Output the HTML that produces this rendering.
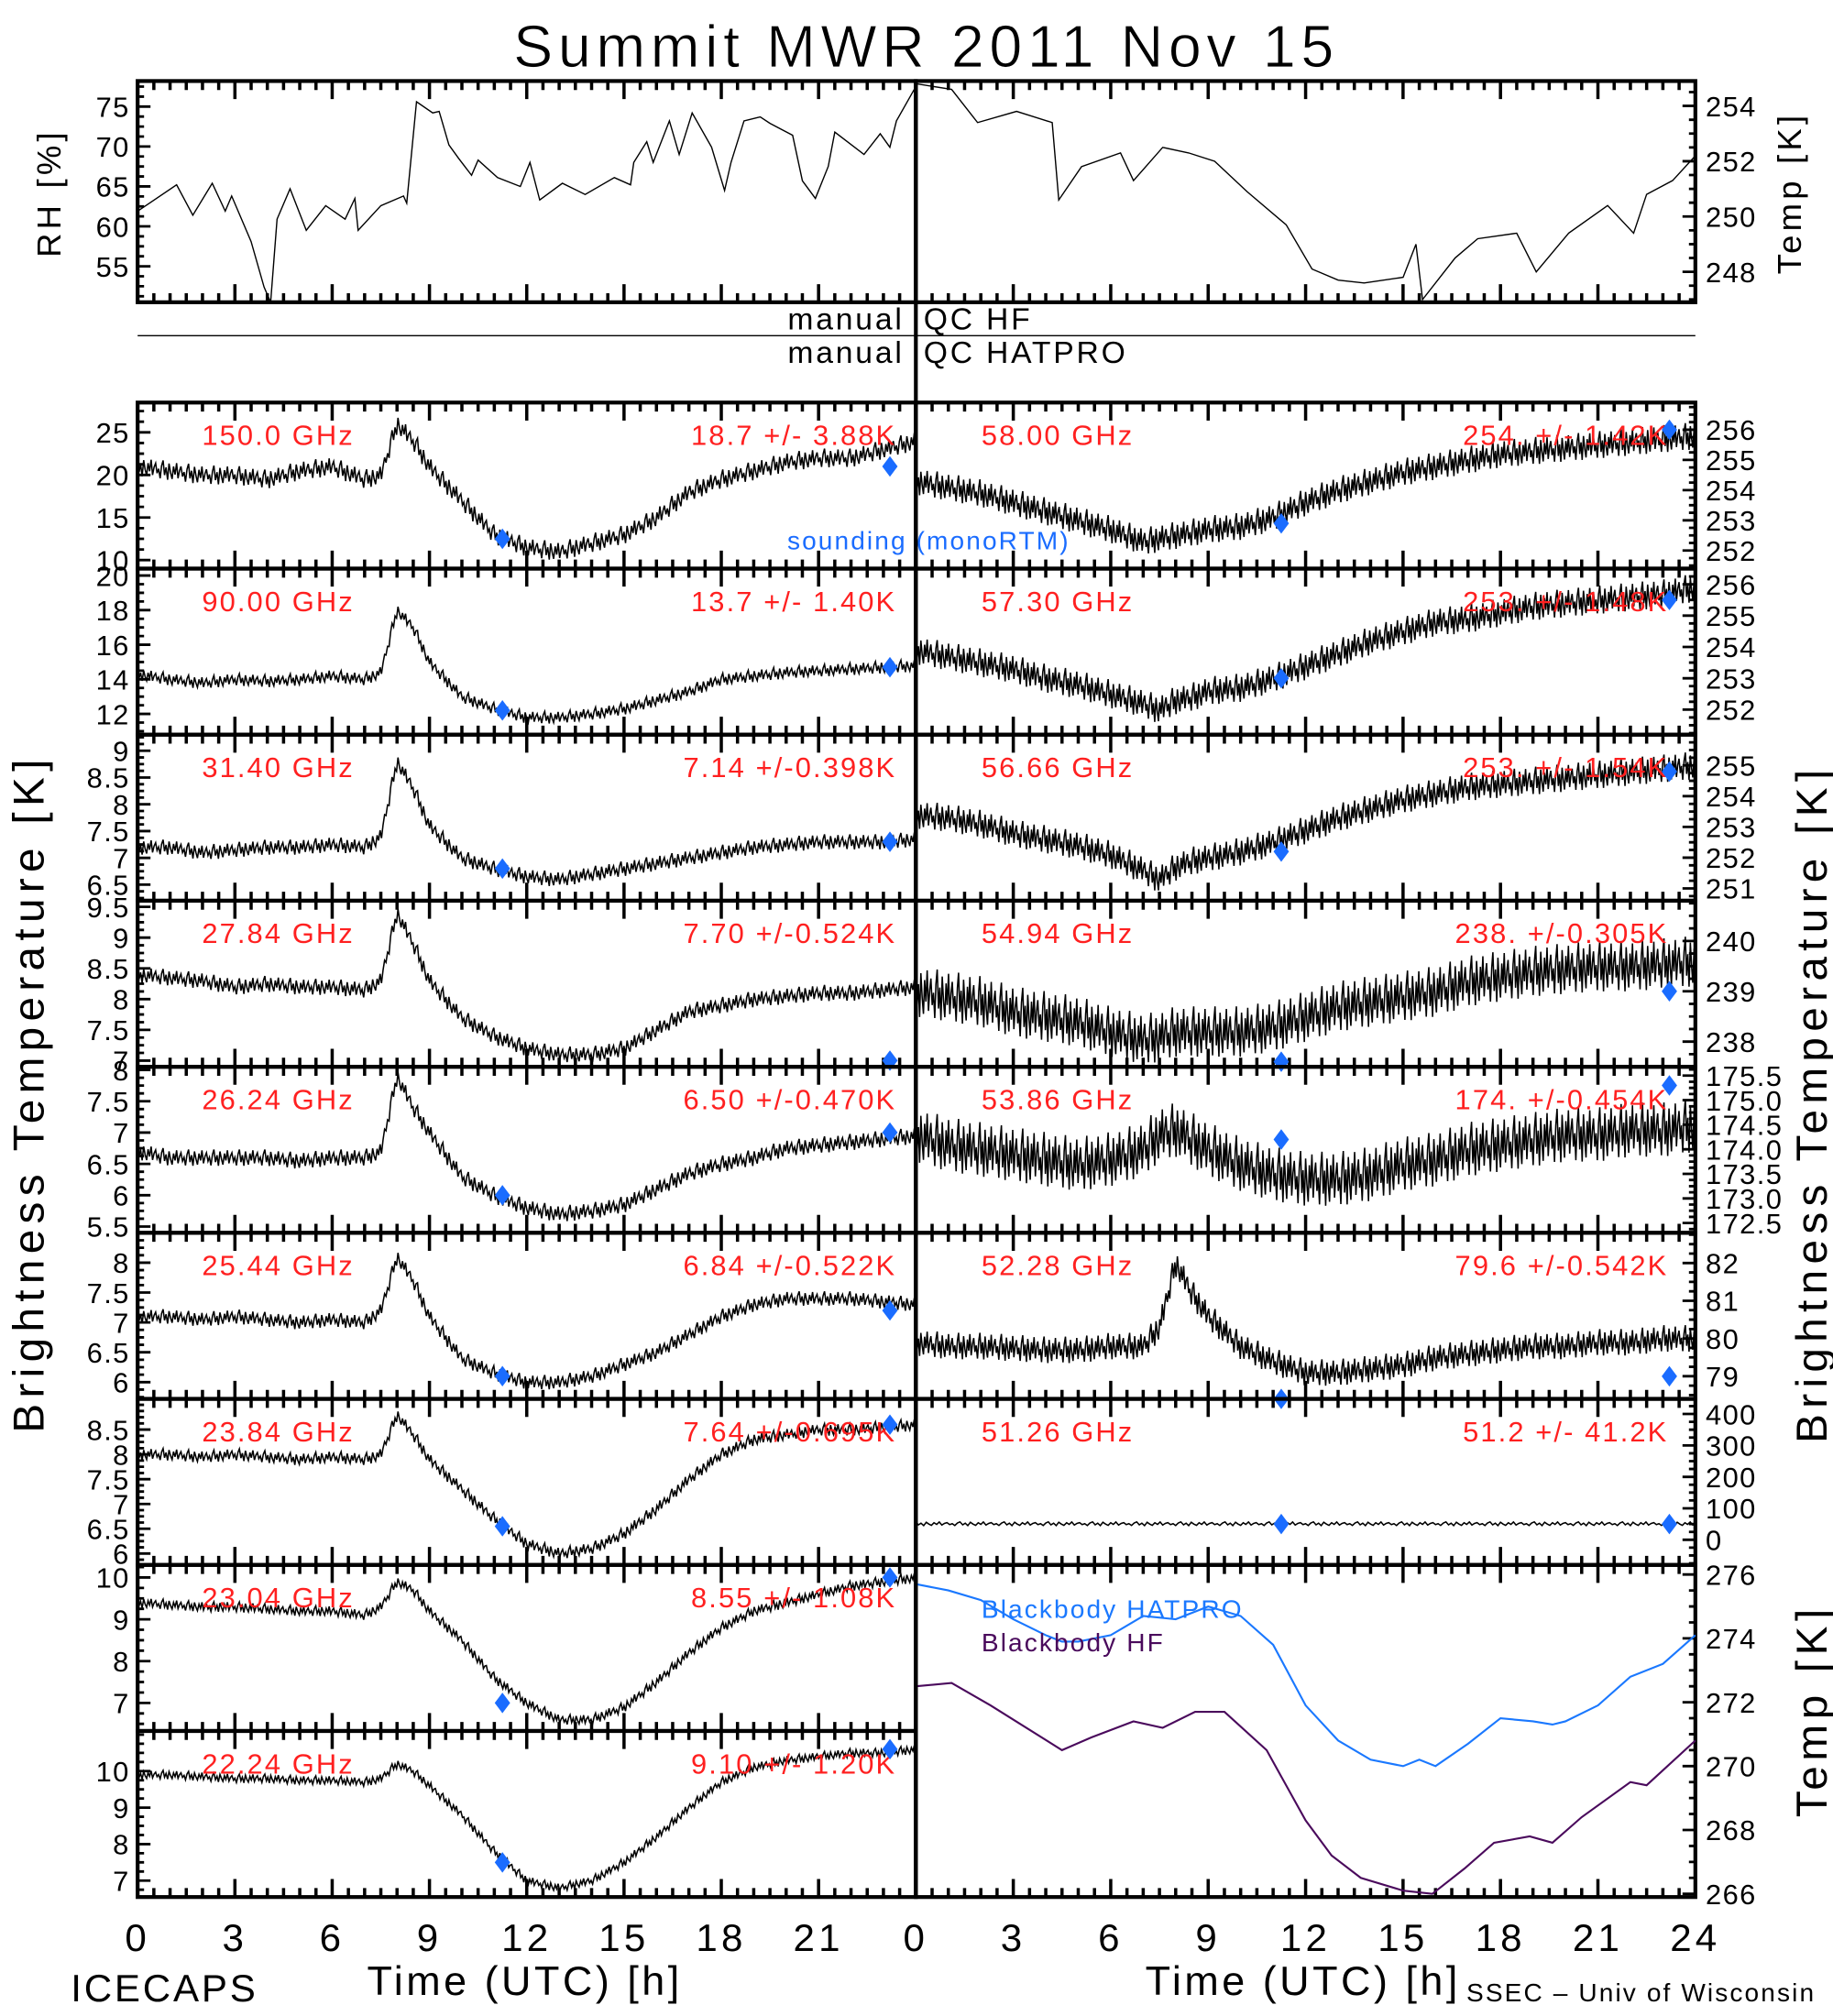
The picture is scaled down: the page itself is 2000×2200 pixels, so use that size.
<!DOCTYPE html>
<html><head><meta charset="utf-8"><style>
html,body{margin:0;padding:0;background:#fff}
svg{display:block}
text{font-family:"Liberation Sans",sans-serif;}
</style></head><body>
<svg id="c" xmlns="http://www.w3.org/2000/svg" width="2000" height="2200" viewBox="0 0 1425 1567.5">
<rect width="1425" height="1567.5" fill="#fff"/>
<text x="720" y="52" font-size="46" text-anchor="middle" letter-spacing="4" stroke="#fff" stroke-width="0.6">Summit  MWR  2011  Nov  15</text>
<g id="g"></g>
</svg>
<script>
const NS="http://www.w3.org/2000/svg";
const G=document.getElementById('g');
function el(tag,attrs,parent){const e=document.createElementNS(NS,tag);for(const k in attrs)e.setAttribute(k,attrs[k]);(parent||G).appendChild(e);return e;}
function txt(s,attrs,parent){const e=el('text',attrs,parent);e.textContent=s;e.setAttribute('xml:space','preserve');if(!attrs['letter-spacing'])e.setAttribute('letter-spacing','1');return e;}

// ---------- data ----------
const T=[0,1,2,3,4,5,6,7,7.5,8,8.5,9,10,11,12,13,14,15,16,17,18,19,20,21,22,23,24];
const leftFreq=["150.0 GHz","90.00 GHz","31.40 GHz","27.84 GHz","26.24 GHz","25.44 GHz","23.84 GHz","23.04 GHz","22.24 GHz"];
const leftStats=["18.7 +/-  3.88K","13.7 +/-  1.40K","7.14 +/-0.398K","7.70 +/-0.524K","6.50 +/-0.470K","6.84 +/-0.522K","7.64 +/-0.695K","8.55 +/-  1.08K","9.10 +/-  1.20K"];
const L1=[21,20.5,20,20,19.5,20.5,21,19.5,20,26,24,21,17,13,11.5,11,12,13,15,18,19.5,20.5,21.5,22,22,23,24];
const L2=[14.3,14,13.8,14,13.9,14,14.2,14,14.4,18,17,15,13,12.3,11.8,11.8,12,12.3,12.8,13.3,14,14.2,14.4,14.5,14.6,14.7,14.8];
const L3=[7.2,7.2,7.1,7.15,7.2,7.2,7.25,7.2,7.4,8.8,8.3,7.6,7.0,6.8,6.65,6.6,6.7,6.8,6.9,7.0,7.1,7.2,7.25,7.3,7.3,7.3,7.35];
const L4=[8.4,8.35,8.3,8.2,8.25,8.2,8.2,8.15,8.3,9.4,8.9,8.3,7.7,7.4,7.2,7.1,7.1,7.2,7.5,7.8,7.9,8.0,8.05,8.1,8.1,8.15,8.2];
const L5=[6.7,6.6,6.6,6.6,6.6,6.55,6.6,6.6,6.7,7.9,7.4,7.0,6.3,6.0,5.8,5.7,5.75,5.85,6.1,6.35,6.5,6.6,6.75,6.8,6.85,6.9,6.95];
const L6=[7.1,7.1,7.05,7.1,7.05,7.0,7.05,7.0,7.2,8.1,7.7,7.1,6.4,6.15,6.0,6.0,6.1,6.3,6.5,6.8,7.1,7.3,7.4,7.4,7.4,7.35,7.3];
const L7=[8.0,8.0,7.95,8.0,7.95,7.9,7.95,7.9,8.0,8.8,8.4,7.9,7.3,6.7,6.2,6.0,6.1,6.4,6.9,7.5,8.0,8.3,8.4,8.5,8.5,8.55,8.6];
const L8=[9.4,9.35,9.3,9.3,9.25,9.2,9.2,9.1,9.3,9.9,9.7,9.2,8.5,7.6,7.0,6.6,6.6,6.9,7.5,8.2,8.8,9.2,9.4,9.6,9.8,9.9,10.0];
const L9=[9.9,9.9,9.85,9.8,9.8,9.75,9.75,9.7,9.8,10.2,10.0,9.6,8.8,7.8,7.0,6.8,7.0,7.5,8.2,9.0,9.7,10.1,10.3,10.4,10.5,10.5,10.6];
const leftSeries=[L1,L2,L3,L4,L5,L6,L7,L8,L9];
const leftMin=[9,10.8,6.2,6.9,5.4,5.72,5.77,6.33,6.55];
const leftMax=[28.5,20.4,9.3,9.6,8.05,8.5,9.12,10.3,11.1];
const leftTicks=[[10,15,20,25],[12,14,16,18,20],[6.5,7.0,7.5,8.0,8.5,9.0],[7.0,7.5,8.0,8.5,9.0,9.5],[5.5,6.0,6.5,7.0,7.5,8.0],[6.0,6.5,7.0,7.5,8.0],[6.0,6.5,7.0,7.5,8.0,8.5],[7,8,9,10],[7,8,9,10]];
const leftNoise=[1.1,0.35,0.14,0.13,0.13,0.12,0.12,0.12,0.12];
const leftSoundA=[12.5,12.2,6.8,null,6.0,6.1,6.55,7.0,7.5];
const leftSoundB=[21,14.7,7.3,7.0,7.0,7.2,8.6,10.0,10.6];

const rightFreq=["58.00 GHz","57.30 GHz","56.66 GHz","54.94 GHz","53.86 GHz","52.28 GHz","51.26 GHz"];
const rightStats=["254. +/-  1.42K","253. +/-  1.48K","253. +/-  1.54K","238. +/-0.305K","174. +/-0.454K","79.6 +/-0.542K","51.2 +/-  41.2K"];
const R1=[254.3,254.1,253.9,253.6,253.3,253.0,252.7,252.3,252.4,252.5,252.6,252.7,252.8,253.1,253.6,254.0,254.3,254.6,254.8,255.0,255.2,255.3,255.4,255.5,255.6,255.7,255.8];
const R2=[253.9,253.7,253.5,253.3,253.0,252.8,252.5,252.2,252.0,252.3,252.4,252.6,252.7,253.0,253.4,253.8,254.2,254.5,254.8,254.9,255.1,255.3,255.4,255.5,255.6,255.7,255.9];
const R3=[253.4,253.3,253.1,252.8,252.6,252.4,252.1,251.6,251.3,251.7,251.9,252.0,252.2,252.5,252.9,253.3,253.6,253.9,254.1,254.3,254.4,254.5,254.6,254.7,254.8,254.9,255.0];
const R4=[239.0,238.9,238.8,238.6,238.5,238.4,238.2,238.05,238.1,238.2,238.2,238.2,238.2,238.3,238.5,238.7,238.8,238.9,239.0,239.2,239.3,239.4,239.45,239.5,239.5,239.55,239.6];
const R5=[174.3,174.1,174.0,173.9,173.8,173.7,173.8,174.0,174.3,174.4,174.2,174.0,173.7,173.5,173.4,173.4,173.5,173.7,173.8,174.0,174.1,174.2,174.3,174.3,174.4,174.4,174.5];
const R6=[79.9,79.8,79.8,79.75,79.7,79.7,79.8,79.8,80.3,82.0,81.2,80.6,79.8,79.4,79.1,79.1,79.2,79.3,79.5,79.6,79.7,79.8,79.8,79.9,79.9,80.0,80.0];
const R7=[51,51,51,51,51,51,51,51,51,51,51,51,51,51,51,51,51,51,51,51,51,51,51,51,51,51,51];
const rightSeries=[R1,R2,R3,R4,R5,R6,R7];
const rightMin=[251.4,251.2,250.6,237.5,172.3,78.4,-80];
const rightMax=[256.9,256.5,256.0,240.8,175.68,82.8,448];
const rightTicks=[[252,253,254,255,256],[252,253,254,255,256],[251,252,253,254,255],[238,239,240],[172.5,173.0,173.5,174.0,174.5,175.0,175.5],[79,80,81,82],[0,100,200,300,400]];
const rightTickLbl=[null,null,null,null,["172.5","173.0","173.5","174.0","174.5","175.0","175.5"],null,null];
const rightNoise=[0.45,0.45,0.45,0.5,0.55,0.35,6];
const rightSoundA=[252.9,253.0,252.2,237.6,174.2,78.4,50];
const rightSoundB=[256.0,255.5,254.8,239.0,175.3,79.0,50];

const rhT=[0,1.2,1.7,2.3,2.7,2.9,3.5,3.9,4.1,4.3,4.7,5.2,5.8,6.4,6.7,6.8,7.5,8.2,8.3,8.6,9.1,9.3,9.6,9.9,10.3,10.5,11.1,11.8,12.1,12.4,13.1,13.8,14.7,15.2,15.3,15.7,15.9,16.4,16.7,17.1,17.7,18.1,18.3,18.7,19.2,19.5,20.2,20.5,20.9,21.3,21.5,22.4,22.9,23.2,23.4,24];
const rhV=[61.9,65.2,61.4,65.4,61.9,63.8,58.1,52.4,50.5,60.9,64.7,59.5,62.6,60.9,63.5,59.5,62.6,63.8,62.9,75.6,74.2,74.4,70.2,68.5,66.4,68.3,66.1,65.0,68.0,63.3,65.4,64.0,66.1,65.2,68.0,70.6,68.0,73.2,69.0,74.2,69.9,64.5,68.0,73.2,73.7,72.9,71.4,65.7,63.5,67.5,71.8,69.0,71.6,69.9,73.2,77.5];
const tT=[0,1.1,1.9,3.1,4.2,4.4,5.1,6.3,6.7,7.6,8.4,9.2,10.2,11.4,12.2,13.0,13.8,15.0,15.4,15.6,16.6,17.3,18.5,19.1,20.1,21.3,22.1,22.5,23.3,24];
const tV=[254.8,254.6,253.4,253.8,253.4,250.6,251.8,252.3,251.3,252.5,252.3,252.0,250.9,249.7,248.1,247.7,247.6,247.8,249.0,247.0,248.5,249.2,249.4,248.0,249.4,250.4,249.4,250.8,251.3,252.2];
const bbT=[0,1,2,3,4,4.5,5,6,7,8,9,10,11,12,13,14,15,15.5,16,17,18,19,19.6,20,21,22,23,24];
const bbHat=[275.7,275.5,275.2,274.6,274.1,273.9,273.9,274.1,274.7,274.6,275.0,274.7,273.8,271.9,270.8,270.2,270.0,270.2,270.0,270.7,271.5,271.4,271.3,271.4,271.9,272.8,273.2,274.1];
const bbHfT=[0,1.1,2.3,4.5,5.4,6.7,7.6,8.6,9.5,10.8,12,12.8,13.7,15,15.9,16.9,17.8,18.9,19.6,20.5,22,22.5,24];
const bbHf=[272.5,272.6,271.9,270.5,270.9,271.4,271.2,271.7,271.7,270.5,268.3,267.2,266.5,266.1,266.0,266.8,267.6,267.8,267.6,268.4,269.5,269.4,270.8];

// ---------- geometry ----------
const LX0=107,LX1=712,RX0=712,RX1=1318;
const PT=313,PH=(1475-313)/9;
const FS=22;
function xs(x0,x1){return t=>x0+(x1-x0)*t/24;}
function ys(y0,y1,mn,mx){return v=>y1-(v-mn)/(mx-mn)*(y1-y0);}
function interp(ts,vs,t){if(t<=ts[0])return vs[0];for(let i=1;i<ts.length;i++){if(t<=ts[i]){const f=(t-ts[i-1])/(ts[i]-ts[i-1]);return vs[i-1]+f*(vs[i]-vs[i-1]);}}return vs[vs.length-1];}
const pat=[1,-0.55,0.3,-1,0.75,-0.2,-0.85,0.5,-0.35,0.9,-0.7,0.15,0.6,-0.45,0.05,-0.95,0.4];

function frame(x0,y0,x1,y1,name,topTicks,botTicks){
  const r=el('rect',{x:x0,y:y0,width:x1-x0,height:y1-y0,fill:'none',stroke:'#000','stroke-width':3});
  
  
  const X=xs(x0,x1);let d='';
  for(let k=0;k<=48;k++){const t=k/2;const len=(k%6===0)?14:7;const x=X(t);
    if(topTicks)d+=`M${x},${y0}v${len}`;
    if(botTicks)d+=`M${x},${y1}v${-len}`;}
  const p=el('path',{d:d,stroke:'#000','stroke-width':2.5,fill:'none'});
  
  
}
function yAxis(x,side,y0,y1,mn,mx,ticks,labels,name){
  const Y=ys(y0,y1,mn,mx);let d='';
  const step=ticks.length>1?(ticks[1]-ticks[0]):1;
  const sub=step/4;
  const start=Math.ceil(mn/sub)*sub;
  for(let v=start;v<=mx+1e-9;v+=sub){const y=Y(v);const isMaj=ticks.some(t=>Math.abs(t-v)<1e-6);
    const len=isMaj?10:5;d+=`M${x},${y}h${side==='L'?len:-len}`;}
  const p=el('path',{d:d,stroke:'#000','stroke-width':2,fill:'none'});
  
  
  ticks.forEach((v,i)=>{const s=labels?labels[i]:String(v%1===0?v:v.toFixed(1));
    const t=txt(s,{x:side==='L'?x-6:x+8,y:Y(v)+8,'font-size':FS,'text-anchor':side==='L'?'end':'start'});
    
    });
}
function noisy(ts,vs,X,Y,noise,y0,y1,name,n){
  let d='';const N=n||520;
  for(let i=0;i<=N;i++){const t=24*i/N;let v=interp(ts,vs,t)+noise*pat[i%pat.length];
    let y=Math.max(y0+1,Math.min(y1-1,Y(v)));d+=(i?'L':'M')+X(t).toFixed(1)+','+y.toFixed(1);}
  const p=el('path',{d:d,stroke:'#000','stroke-width':1.1,fill:'none'});
  
  
}
function diamond(x,y,name){
  const p=el('path',{d:`M${x},${y-8}L${x+6},${y}L${x},${y+8}L${x-6},${y}Z`,fill:'#1a6cff'});
  
  
}

// ---------- top panels ----------
(function(){
  const y0=63,y1=235;
  frame(LX0,y0,LX1,y1,'rh-panel',true,true);
  frame(RX0,y0,RX1,y1,'temp-panel',true,true);
  const X=xs(LX0,LX1),Y=ys(y0,y1,50.5,78.2);
  yAxis(LX0,'L',y0,y1,50.5,78.2,[55,60,65,70,75],null,'rh');
  let d='';rhT.forEach((t,i)=>{d+=(i?'L':'M')+X(t).toFixed(1)+','+Math.min(y1,Y(rhV[i])).toFixed(1);});
  let p=el('path',{d:d,stroke:'#000','stroke-width':1,fill:'none'});
  
  
  const X2=xs(RX0,RX1),Y2=ys(y0,y1,246.9,254.9);
  yAxis(RX1,'R',y0,y1,246.9,254.9,[248,250,252,254],null,'temp');
  d='';tT.forEach((t,i)=>{d+=(i?'L':'M')+X2(t).toFixed(1)+','+Y2(tV[i]).toFixed(1);});
  p=el('path',{d:d,stroke:'#000','stroke-width':1,fill:'none'});
  
  
  let t=txt('RH [%]',{x:0,y:0,'font-size':26,'text-anchor':'middle','letter-spacing':3,transform:'translate(47,150) rotate(-90)'});
  
  
  t=txt('Temp [K]',{x:0,y:0,'font-size':26,'text-anchor':'middle','letter-spacing':3,transform:'translate(1400,150) rotate(-90)'});
  
  
})();

// QC rows
(function(){
  const l=el('line',{x1:LX0,y1:261,x2:RX1,y2:261,stroke:'#000','stroke-width':1});
  
  
  [['manual','QC  HF',256,'qc-hf'],['manual','QC  HATPRO',282,'qc-hatpro']].forEach(a=>{
    let t=txt(a[0],{x:703,y:a[2],'font-size':24,'text-anchor':'end','letter-spacing':2});
    
    
    t=txt(a[1],{x:718,y:a[2],'font-size':24,'letter-spacing':2});
    
    });
})();

// left column
leftSeries.forEach((S,i)=>{
  const y0=PT+i*PH,y1=y0+PH,mn=leftMin[i],mx=leftMax[i];
  const nm='panel-'+leftFreq[i].replace(/[ .]/g,'').toLowerCase();
  frame(LX0,y0,LX1,y1,nm,true,true);
  const X=xs(LX0,LX1),Y=ys(y0,y1,mn,mx);
  yAxis(LX0,'L',y0,y1,mn,mx,leftTicks[i],null,nm);
  noisy(T,S,X,Y,leftNoise[i],y0,y1,nm+'-series');
  let t=txt(leftFreq[i],{x:157,y:y0+33,'font-size':FS,fill:'#ff2020','letter-spacing':1.5});
  
  
  t=txt(leftStats[i],{x:697,y:y0+33,'font-size':FS,fill:'#ff2020','text-anchor':'end','letter-spacing':1.5});
  
  
  if(leftSoundA[i]!==null)diamond(X(11.25),Y(leftSoundA[i]),nm+'-sounding-a');
  diamond(X(23.2),Y(leftSoundB[i]),nm+'-sounding-b');
});
// right column
rightSeries.forEach((S,i)=>{
  const y0=PT+i*PH,y1=y0+PH,mn=rightMin[i],mx=rightMax[i];
  const nm='panel-'+rightFreq[i].replace(/[ .]/g,'').toLowerCase();
  frame(RX0,y0,RX1,y1,nm,true,true);
  const X=xs(RX0,RX1),Y=ys(y0,y1,mn,mx);
  yAxis(RX1,'R',y0,y1,mn,mx,rightTicks[i],rightTickLbl[i],nm);
  noisy(T,S,X,Y,rightNoise[i],y0,y1,nm+'-series',i===6?300:620);
  let t=txt(rightFreq[i],{x:763,y:y0+33,'font-size':FS,fill:'#ff2020','letter-spacing':1.5});
  
  
  t=txt(rightStats[i],{x:1297,y:y0+33,'font-size':FS,fill:'#ff2020','text-anchor':'end','letter-spacing':1.5});
  
  
  diamond(X(11.25),Y(rightSoundA[i]),nm+'-sounding-a');
  diamond(X(23.2),Y(rightSoundB[i]),nm+'-sounding-b');
});
(function(){
  const t=txt('sounding (monoRTM)',{x:612,y:427,'font-size':20,fill:'#1a6cff','letter-spacing':1.5});
  
  
})();

// blackbody panel
(function(){
  const y0=PT+7*PH,y1=PT+9*PH,mn=265.9,mx=276.3;
  frame(RX0,y0,RX1,y1,'blackbody-panel',true,true);
  const X=xs(RX0,RX1),Y=ys(y0,y1,mn,mx);
  yAxis(RX1,'R',y0,y1,mn,mx,[266,268,270,272,274,276],null,'blackbody');
  let d='';bbT.forEach((t,i)=>{d+=(i?'L':'M')+X(t).toFixed(1)+','+Y(bbHat[i]).toFixed(1);});
  let p=el('path',{d:d,stroke:'#1a78ff','stroke-width':1.5,fill:'none'});
  
  
  d='';bbHfT.forEach((t,i)=>{d+=(i?'L':'M')+X(t).toFixed(1)+','+Y(bbHf[i]).toFixed(1);});
  p=el('path',{d:d,stroke:'#4a0a5c','stroke-width':1.5,fill:'none'});
  
  
  let t=txt('Blackbody  HATPRO',{x:763,y:1258,'font-size':20,fill:'#1a78ff','letter-spacing':1.5});
  
  
  t=txt('Blackbody  HF',{x:763,y:1284,'font-size':20,fill:'#4a0a5c','letter-spacing':1.5});
  
  
  t=txt('Temp  [K]',{x:0,y:0,'font-size':34,'text-anchor':'middle','letter-spacing':4,transform:'translate(1420,1330) rotate(-90)'});
  
  
})();

// center divider
(function(){
  const l=el('line',{x1:712,y1:63,x2:712,y2:1475,stroke:'#000','stroke-width':3});
  
  
})();

// x axis labels
const xTickVals=[0,3,6,9,12,15,18,21,24];
(function(){
  const XL=xs(LX0,LX1),XR=xs(RX0,RX1);
  xTickVals.forEach(v=>{
    if(v<24){const t=txt(String(v),{x:XL(v),y:1517,'font-size':30,'text-anchor':'middle','letter-spacing':3});
      
      }
    const t2=txt(String(v),{x:XR(v),y:1517,'font-size':30,'text-anchor':'middle','letter-spacing':3});
    
    
  });
  let t=txt('Time  (UTC)  [h]',{x:408,y:1551,'font-size':32,'text-anchor':'middle','letter-spacing':2.5});
  
  
  t=txt('Time  (UTC)  [h]',{x:1013,y:1551,'font-size':32,'text-anchor':'middle','letter-spacing':2.5});
  
  
  t=txt('ICECAPS',{x:55,y:1556,'font-size':30,'letter-spacing':2});
  
  
  t=txt('SSEC  –  Univ of Wisconsin',{x:1140,y:1556,'font-size':20,'letter-spacing':1.5});
  
  
  t=txt('Brightness  Temperature  [K]',{x:0,y:0,'font-size':34,'text-anchor':'middle','letter-spacing':4.5,transform:'translate(34,850) rotate(-90)'});
  
  
  t=txt('Brightness  Temperature  [K]',{x:0,y:0,'font-size':34,'text-anchor':'middle','letter-spacing':4.5,transform:'translate(1420,858) rotate(-90)'});
  
  
})();
</script>
</body></html>
